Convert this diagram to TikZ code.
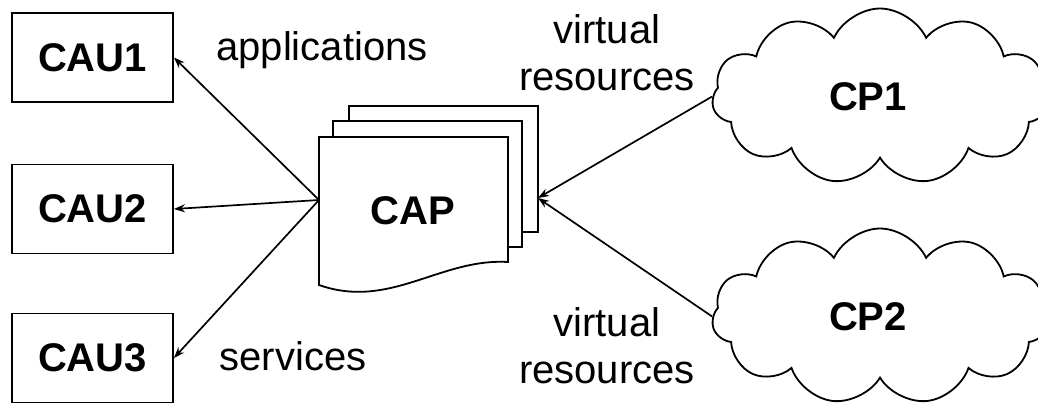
\documentclass[tikz,border=0pt]{standalone}
\usepackage{fontspec}
\setmainfont{Liberation Sans}
\usetikzlibrary{shapes.symbols, arrows.meta}

\begin{document}
\begin{tikzpicture}[x=1pt,y=-1pt,
  every node/.style={font=\fontsize{40}{47}\selectfont,inner sep=0pt},
  user/.style={draw,line width=1.8pt,minimum width=161pt,minimum height=89pt,font=\fontsize{40}{47}\selectfont\bfseries},
  provider/.style={cloud,draw,line width=1.8pt,cloud puffs=11,cloud puff arc=130,cloud ignores aspect,minimum width=336pt,minimum height=176pt,font=\fontsize{40}{47}\selectfont\bfseries},
  sheet/.style={draw,fill=white,line width=1.8pt},
  flow/.style={-{Stealth[length=11pt,width=8pt]},line width=1.7pt}]
  \useasboundingbox (0,0) rectangle (1038,405);
  \clip (0,0) rectangle (1038,405);
  \path (92.5,57.5) node[user] (cau1) {CAU1}
  (92.5,209) node[user] (cau2) {CAU2}
  (92.5,358) node[user] (cau3) {CAU3};
  % the stacked CAP sheets
  \draw[sheet] (349,106) rectangle (538,232);
  \draw[sheet] (333,121) rectangle (522,247);
  \draw[sheet] (319,137) -- (508,137) -- (508,262) .. controls (440,258) and (390,310) .. (319,285) -- cycle;
  \node[font=\fontsize{40}{47}\selectfont\bfseries] (cap) at (413,211) {CAP};
  \coordinate (capin) at (319,200);
  \coordinate (capout) at (538,198);
  \path (880,96.5) node[provider] (cp1) {\hspace*{-24pt}CP1} (880,316.5) node[provider] (cp2) {\hspace*{-24pt}CP2};
  \draw[flow] (capin) -- (cau1.east);
  \draw[flow] (capin) -- (cau2.east);
  \draw[flow] (capin) -- (cau3.east);
  \draw[flow] (cp1.west) -- (capout);
  \draw[flow] (cp2.west) -- (capout);
  % labels
  \node[anchor=base] (apps) at (322,60) {applications};
  \node[anchor=base] (serv) at (293,370) {services};
  \node[anchor=base,align=center] (vres1) at (607,90) {virtual\\resources};
  \node[anchor=base,align=center] (vres2) at (607,383) {virtual\\resources};
\end{tikzpicture}
\end{document}
